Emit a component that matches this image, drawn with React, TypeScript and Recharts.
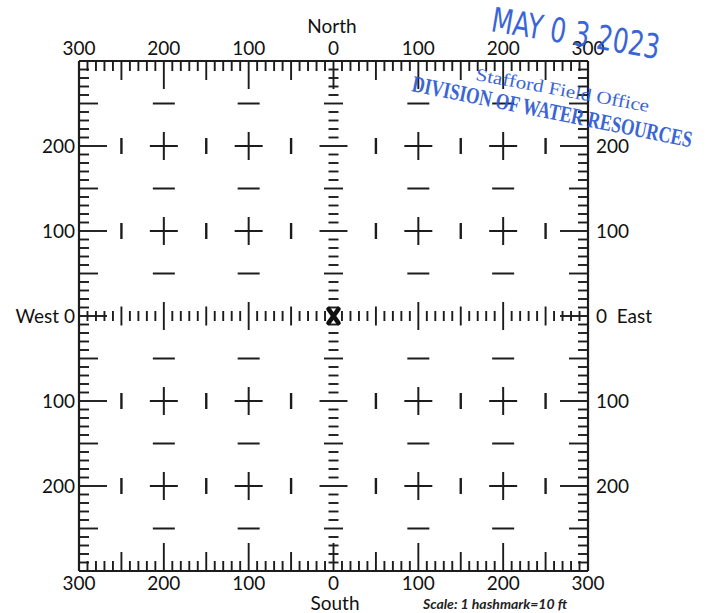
import React from 'react';
import { ScatterChart, Scatter, XAxis, YAxis } from 'recharts';

// hashmark positions (ft), one every 10 ft
const HASH_STEPS = [
  -290, -280, -270, -260, -250, -240, -230, -220, -210, -200,
  -190, -180, -170, -160, -150, -140, -130, -120, -110, -100,
  -90, -80, -70, -60, -50, -40, -30, -20, -10, 0,
  10, 20, 30, 40, 50, 60, 70, 80, 90, 100,
  110, 120, 130, 140, 150, 160, 170, 180, 190, 200,
  210, 220, 230, 240, 250, 260, 270, 280, 290,
];
const X_LABEL_TICKS = [-300, -200, -100, 0, 100, 200, 300];
const Y_LABEL_TICKS = [-200, -100, 0, 100, 200];
const CROSS_POS = [-200, -100, 100, 200];
const DASH_X = [-200, -100, 100, 200];
const DASH_Y = [-250, -150, -50, 50, 150, 250];
const BAR_X = [-250, -150, -50, 50, 150, 250];
const BAR_Y = [-200, -100, 100, 200];
const WELL = [{ x: 0, y: 0 }];
const LIMIT = 300;

const INK = '#1c1c1c';
const BLUE = '#2a58d4';
const FONT = 'Lato, "Open Sans", sans-serif';

const topEdge = HASH_STEPS.map((v) => ({ x: v, y: LIMIT }));
const bottomEdge = HASH_STEPS.map((v) => ({ x: v, y: -LIMIT }));
const leftEdge = HASH_STEPS.map((v) => ({ x: -LIMIT, y: v }));
const rightEdge = HASH_STEPS.map((v) => ({ x: LIMIT, y: v }));
const centerCol = HASH_STEPS.filter((v) => v !== 0).map((v) => ({ x: 0, y: v }));
const centerRow = HASH_STEPS.filter((v) => v !== 0).map((v) => ({ x: v, y: 0 }));
const crosses = CROSS_POS.flatMap((x) => CROSS_POS.map((y) => ({ x, y })));
const dashes = DASH_X.flatMap((x) => DASH_Y.map((y) => ({ x, y })));
const bars = BAR_X.flatMap((x) => BAR_Y.map((y) => ({ x, y })));

const len = (v: number) => (v % 100 === 0 ? 28 : v % 50 === 0 ? 19 : 10);
const SW = 1.9;

const TopShape = (p: any) => (
  <line x1={p.cx} y1={p.cy} x2={p.cx} y2={p.cy + len(p.payload.x)} stroke={INK} strokeWidth={SW} />
);
const BottomShape = (p: any) => (
  <line x1={p.cx} y1={p.cy} x2={p.cx} y2={p.cy - len(p.payload.x)} stroke={INK} strokeWidth={SW} />
);
const LeftShape = (p: any) => (
  <line x1={p.cx} y1={p.cy} x2={p.cx + len(p.payload.y)} y2={p.cy} stroke={INK} strokeWidth={SW} />
);
const RightShape = (p: any) => (
  <line x1={p.cx} y1={p.cy} x2={p.cx - len(p.payload.y)} y2={p.cy} stroke={INK} strokeWidth={SW} />
);
const ColShape = (p: any) => {
  const h = len(p.payload.y) / 2;
  return <line x1={p.cx - h} y1={p.cy} x2={p.cx + h} y2={p.cy} stroke={INK} strokeWidth={SW} />;
};
const RowShape = (p: any) => {
  const h = len(p.payload.x) / 2;
  return <line x1={p.cx} y1={p.cy - h} x2={p.cx} y2={p.cy + h} stroke={INK} strokeWidth={SW} />;
};
const CrossShape = (p: any) => (
  <g stroke={INK} strokeWidth={2}>
    <line x1={p.cx - 14} y1={p.cy} x2={p.cx + 14} y2={p.cy} />
    <line x1={p.cx} y1={p.cy - 14} x2={p.cx} y2={p.cy + 14} />
  </g>
);
const DashShape = (p: any) => (
  <line x1={p.cx - 11} y1={p.cy} x2={p.cx + 11} y2={p.cy} stroke={INK} strokeWidth={2} />
);
const BarShape = (p: any) => (
  <line x1={p.cx} y1={p.cy - 8} x2={p.cx} y2={p.cy + 8} stroke={INK} strokeWidth={2.4} />
);
const WellShape = (p: any) => (
  <g stroke="#111" strokeWidth={4.6} strokeLinecap="round">
    <line x1={p.cx - 5} y1={p.cy - 7} x2={p.cx + 5} y2={p.cy + 7} />
    <line x1={p.cx + 5} y1={p.cy - 7} x2={p.cx - 5} y2={p.cy + 7} />
  </g>
);
const Nothing = () => <g />;

const tickStyle = { fill: '#111', fontSize: 19, fontFamily: FONT };
const absFmt = (v: number) => String(Math.abs(v));
const axisLine = { stroke: INK, strokeWidth: 2.2 };

export default function App() {
  return (
    <div style={{ position: 'absolute', left: 0, top: 0, width: 710, height: 613, background: '#fff' }}>
      <ScatterChart width={710} height={613} margin={{ top: 31, right: 62, bottom: 12, left: 19 }}>
        <XAxis
          xAxisId="b" orientation="bottom" type="number" dataKey="x" domain={[-LIMIT, LIMIT]}
          allowDataOverflow ticks={X_LABEL_TICKS} interval={0} tickFormatter={absFmt}
          height={30} axisLine={axisLine} tickLine={false} tickSize={0} tickMargin={6} tick={tickStyle}
        />
        <XAxis
          xAxisId="t" orientation="top" type="number" dataKey="x" domain={[-LIMIT, LIMIT]}
          allowDataOverflow ticks={X_LABEL_TICKS} interval={0} tickFormatter={absFmt}
          height={30} axisLine={axisLine} tickLine={false} tickSize={0} tickMargin={6} tick={tickStyle}
        />
        <YAxis
          yAxisId="l" orientation="left" type="number" dataKey="y" domain={[-LIMIT, LIMIT]}
          allowDataOverflow ticks={Y_LABEL_TICKS} interval={0}
          tickFormatter={(v: number) => (v === 0 ? 'West 0' : absFmt(v))}
          width={60} axisLine={axisLine} tickLine={false} tickSize={0} tickMargin={4} tick={tickStyle}
        />
        <YAxis
          yAxisId="r" orientation="right" type="number" dataKey="y" domain={[-LIMIT, LIMIT]}
          allowDataOverflow ticks={Y_LABEL_TICKS} interval={0}
          tickFormatter={(v: number) => (v === 0 ? '0\u00a0\u00a0East' : absFmt(v))}
          width={60} axisLine={axisLine} tickLine={false} tickSize={0} tickMargin={8} tick={tickStyle}
        />
        <Scatter xAxisId="t" yAxisId="r" data={WELL} shape={Nothing} isAnimationActive={false} />
        <Scatter xAxisId="b" yAxisId="l" data={topEdge} shape={TopShape} isAnimationActive={false} />
        <Scatter xAxisId="b" yAxisId="l" data={bottomEdge} shape={BottomShape} isAnimationActive={false} />
        <Scatter xAxisId="b" yAxisId="l" data={leftEdge} shape={LeftShape} isAnimationActive={false} />
        <Scatter xAxisId="b" yAxisId="l" data={rightEdge} shape={RightShape} isAnimationActive={false} />
        <Scatter xAxisId="b" yAxisId="l" data={centerCol} shape={ColShape} isAnimationActive={false} />
        <Scatter xAxisId="b" yAxisId="l" data={centerRow} shape={RowShape} isAnimationActive={false} />
        <Scatter xAxisId="b" yAxisId="l" data={crosses} shape={CrossShape} isAnimationActive={false} />
        <Scatter xAxisId="b" yAxisId="l" data={dashes} shape={DashShape} isAnimationActive={false} />
        <Scatter xAxisId="b" yAxisId="l" data={bars} shape={BarShape} isAnimationActive={false} />
        <Scatter xAxisId="b" yAxisId="l" data={WELL} shape={WellShape} isAnimationActive={false} />
      </ScatterChart>
      <svg
        width={710} height={613}
        style={{ position: 'absolute', left: 0, top: 0, pointerEvents: 'none' }}
      >
        <text x={332} y={33} textAnchor="middle" fontSize={19} fontFamily={FONT} fill="#111">North</text>
        <text x={335} y={610} textAnchor="middle" fontSize={19} fontFamily={FONT} fill="#111">South</text>
        <text x={423} y={609} fontSize={14} fontFamily={FONT} fontStyle="italic" fontWeight="bold" fill="#222">
          Scale:  1 hashmark=10 ft
        </text>
        <g fill={BLUE} opacity={0.92}>
          <text
            transform="translate(490,31) rotate(9.5)" fontSize={34}
            fontFamily='"Liberation Sans Narrow", "DejaVu Sans Condensed", sans-serif'
            textLength={170} lengthAdjust="spacingAndGlyphs"
          >
            MAY 0 3 2023
          </text>
          <text
            transform="translate(475,80) rotate(10.5)" fontSize={18}
            fontFamily='"Liberation Serif", serif' textLength={176} lengthAdjust="spacingAndGlyphs"
          >
            Stafford Field Office
          </text>
          <text
            transform="translate(411,91) rotate(11.4) scale(1,1.28)" fontSize={18} fontWeight="bold"
            fontFamily='"Liberation Serif", serif' textLength={285} lengthAdjust="spacingAndGlyphs"
          >
            DIVISION OF WATER RESOURCES
          </text>
        </g>
      </svg>
    </div>
  );
}
